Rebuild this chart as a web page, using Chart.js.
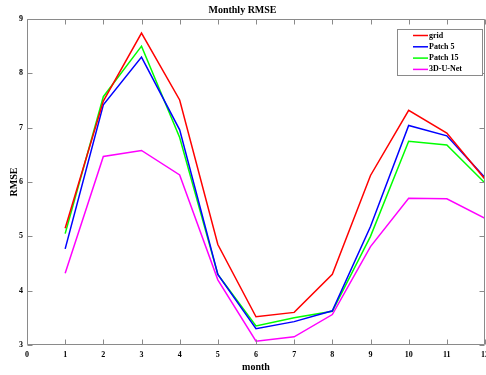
<!DOCTYPE html>
<html><head><meta charset="utf-8">
<script src="https://cdn.jsdelivr.net/npm/chart.js@4.4.0/dist/chart.umd.min.js"></script>
<style>
html,body{margin:0;padding:0;overflow:hidden;background:#fff;width:486px;height:375px}
#wrap{width:512px;height:375px}
</style></head>
<body><div id="wrap"><canvas id="c" width="512" height="375"></canvas></div>
<script>
// ---- data ----
const months = [1,2,3,4,5,6,7,8,9,10,11,12];
const xTickValues = [0,1,2,3,4,5,6,7,8,9,10,11,12];
const yTickValues = [3,4,5,6,7,8,9];
const seriesNames = ['grid','Patch 5','Patch 15','3D-U-Net'];
const gridRMSE    = [5.15,7.49,8.74,7.51,4.85,3.52,3.60,4.30,6.12,7.32,6.90,6.05];
const patch5RMSE  = [4.77,7.42,8.30,6.96,4.30,3.30,3.43,3.63,5.18,7.04,6.85,6.08];
const patch15RMSE = [5.05,7.57,8.50,6.82,4.30,3.35,3.50,3.62,5.00,6.75,6.68,5.98];
const unetRMSE    = [4.32,6.47,6.58,6.13,4.20,3.07,3.15,3.56,4.81,5.70,5.69,5.33];
const seriesColors = ['#ff0000','#0000ff','#00ff00','#ff00ff'];

const FONT = "'Liberation Serif','Times New Roman',serif";
const allSeries = [gridRMSE, patch5RMSE, patch15RMSE, unetRMSE];

const datasets = allSeries.map((vals, i) => ({
  label: seriesNames[i],
  data: months.map((m, j) => ({x: m, y: vals[j]})),
  borderColor: seriesColors[i],
  backgroundColor: seriesColors[i],
  borderWidth: 1.5,
  pointRadius: 0,
  tension: 0,
  fill: false
}));

const framePlugin = {
  id: 'frame',
  afterDatasetsDraw(chart) {
    const {ctx, chartArea: {left, right, top, bottom}, scales: {x, y}} = chart;
    ctx.save();
    ctx.strokeStyle = '#8a8a8a';
    ctx.lineWidth = 1;
    const L = Math.round(left) + 0.5, R = Math.round(right) - 0.5;
    const T = Math.round(top) + 0.5, B = Math.round(bottom) - 0.5;
    ctx.beginPath();
    ctx.rect(L, T, R - L, B - T);
    ctx.stroke();
    const tl = 5;
    ctx.beginPath();
    xTickValues.forEach(v => {
      const px = Math.round(x.getPixelForValue(v)) + 0.5;
      ctx.moveTo(px, B); ctx.lineTo(px, B - tl);
      ctx.moveTo(px, T); ctx.lineTo(px, T + tl);
    });
    yTickValues.forEach(v => {
      const py = Math.round(y.getPixelForValue(v)) + 0.5;
      ctx.moveTo(L, py); ctx.lineTo(L + tl, py);
      ctx.moveTo(R, py); ctx.lineTo(R - tl, py);
    });
    ctx.stroke();
    ctx.restore();
  }
};

const legendPlugin = {
  id: 'boxLegend',
  afterDraw(chart) {
    const {ctx, chartArea: {right, top}} = chart;
    const bw = 85, bh = 46;
    const bx = Math.round(right) - 88, by = Math.round(top) + 10;
    ctx.save();
    ctx.fillStyle = '#ffffff';
    ctx.fillRect(bx, by, bw, bh);
    ctx.strokeStyle = '#8a8a8a';
    ctx.lineWidth = 1;
    ctx.strokeRect(bx + 0.5, by + 0.5, bw, bh);
    ctx.font = "bold 8px " + FONT;
    ctx.textBaseline = 'middle';
    ctx.textAlign = 'left';
    chart.data.datasets.forEach((ds, i) => {
      const yy = by + 6.5 + i * 11.3;
      ctx.strokeStyle = ds.borderColor;
      ctx.lineWidth = 1.5;
      ctx.beginPath();
      ctx.moveTo(bx + 16, yy); ctx.lineTo(bx + 31, yy);
      ctx.stroke();
      ctx.fillStyle = '#000';
      ctx.fillText(ds.label, bx + 32, yy);
    });
    ctx.restore();
  }
};

new Chart(document.getElementById('c'), {
  type: 'line',
  data: { datasets },
  options: {
    responsive: false,
    animation: false,
    devicePixelRatio: 1,
    layout: { padding: { left: 0, right: 27, top: 0, bottom: 0 } },
    plugins: {
      legend: { display: false },
      tooltip: { enabled: false },
      title: {
        display: true,
        text: 'Monthly RMSE',
        color: '#000',
        font: { family: FONT, size: 10, weight: 'bold' },
        padding: { top: 4, bottom: 3 }
      }
    },
    scales: {
      x: {
        type: 'linear',
        min: 0, max: 12,
        afterBuildTicks: s => { s.ticks = xTickValues.map(v => ({value: v})); },
        afterFit: s => { s.height = 30; },
        grid: { display: false, drawTicks: false },
        border: { display: false },
        ticks: { color: '#000', padding: 5, maxRotation: 0, autoSkip: false,
                 font: { family: FONT, size: 8, weight: 'bold' } },
        title: { display: true, text: 'month', color: '#000',
                 font: { family: FONT, size: 10, weight: 'bold' },
                 padding: { top: 0, bottom: 2 } }
      },
      y: {
        min: 3, max: 9,
        afterBuildTicks: s => { s.ticks = yTickValues.map(v => ({value: v})); },
        afterFit: s => { s.width = 27; },
        grid: { display: false, drawTicks: false },
        border: { display: false },
        ticks: { color: '#000', padding: 4,
                 font: { family: FONT, size: 8, weight: 'bold' } },
        title: { display: true, text: 'RMSE', color: '#000',
                 font: { family: FONT, size: 10, weight: 'bold' },
                 padding: { top: 8, bottom: 0 } }
      }
    }
  },
  plugins: [framePlugin, legendPlugin]
});
</script>
</body></html>
